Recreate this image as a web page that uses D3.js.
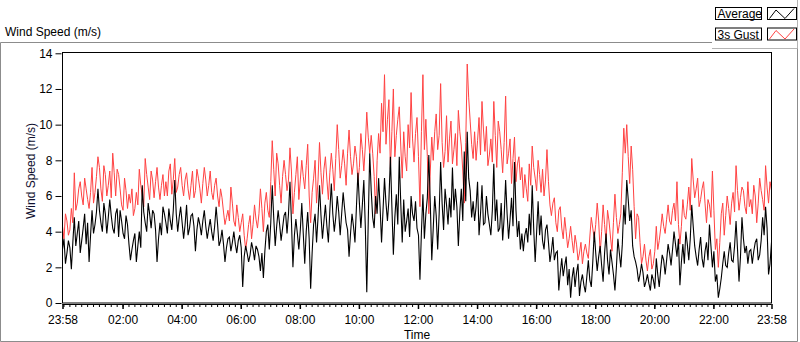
<!DOCTYPE html>
<html>
<head>
<meta charset="utf-8">
<script src="https://cdnjs.cloudflare.com/ajax/libs/d3/7.8.5/d3.min.js"></script>
<style>
  html, body { margin: 0; padding: 0; background: #fff; }
  svg { display: block; font-family: "Liberation Sans", Arial, sans-serif; }
</style>
</head>
<body>
<svg id="chart" width="800" height="342"></svg>
<script>
// readings every 3 minutes from 23:58; kept as the readings on the
// 6 minute marks and the ones half-way between them
var sampleMinutes = 3;

var gustMarks = [
  4.3,5.0,3.8,5.3,7.3,5.6,6.8,5.5,6.4,5.3,7.6,6.2,8.2,6.4,7.7,6.0,7.4,8.4,6.0,7.2,
  5.5,7.0,5.3,5.6,4.9,6.2,7.5,6.0,8.1,6.5,7.4,5.9,7.6,5.8,7.2,
  6.8,7.4,6.1,8.1,6.5,7.6,6.0,7.3,5.8,7.4,6.3,7.0,5.6,7.6,6.0,7.4,5.8,7.0,5.4,5.9,
  4.4,5.2,6.5,4.6,5.5,4.0,5.0,3.0,4.4,3.6,5.5,4.2,6.4,4.0,6.2,
  4.8,9.1,6.0,7.8,5.6,8.0,6.3,8.7,5.0,7.2,5.8,8.0,6.4,8.9,4.5,7.0,5.6,9.0,6.1,8.2,
  5.8,8.4,6.3,10.0,7.0,8.6,6.6,9.7,7.2,8.8,6.8,9.5,7.4,10.7,8.4,
  8.4,5.0,9.5,11.2,12.8,10.3,7.5,12.0,9.4,11.0,7.0,8.2,10.0,11.8,7.9,10.4,5.4,12.8,10.3,5.0,
  9.3,9.6,8.6,12.3,7.6,10.5,9.2,7.8,9.5,10.8,8.8,5.6,13.4,10.2,8.1,
  8.0,10.4,11.3,8.5,7.7,9.2,11.3,7.6,9.6,7.3,11.6,8.4,6.7,9.3,7.8,6.9,5.9,6.4,7.8,8.8,
  7.0,8.0,6.2,6.0,8.6,5.5,5.6,4.5,5.2,4.2,4.8,3.1,4.3,2.8,3.3,
  2.8,2.2,3.3,2.5,4.8,3.6,5.6,2.8,5.5,3.4,4.6,2.9,6.1,3.9,5.0,9.8,10.0,6.7,7.5,3.6,
  4.8,2.2,3.3,1.8,3.0,2.2,4.3,3.5,5.0,3.9,5.5,4.4,5.6,6.8,3.3,
  5.8,4.7,6.5,8.1,5.9,7.0,5.8,6.8,4.5,5.5,7.4,3.0,2.0,5.0,3.8,6.0,4.4,6.2,7.7,5.2,
  6.5,5.4,6.8,5.8,6.6,4.5,7.0,5.8,7.7,5.6,6.3
];
var gustBetween = [
  3.6,4.6,4.1,4.5,5.2,6.4,6.0,7.0,5.8,6.2,5.6,7.1,7.6,5.7,7.2,6.6,5.9,7.3,7.5,6.4,
  5.2,6.3,6.1,6.4,5.3,5.5,6.6,5.4,7.2,5.8,6.9,6.8,6.5,6.6,6.0,
  6.0,7.8,6.9,6.2,7.2,6.6,6.9,6.4,6.6,5.9,7.5,6.4,6.7,6.9,6.6,6.2,6.6,6.0,6.4,5.1,
  4.8,4.6,5.6,4.3,4.8,4.5,3.8,3.6,4.9,4.4,4.7,5.0,5.3,5.6,5.2,
  6.8,7.5,8.4,6.6,7.1,7.2,6.9,7.4,6.2,8.2,6.9,7.1,7.7,6.0,6.2,8.0,6.9,7.3,7.5,6.9,
  7.3,7.5,8.1,8.6,7.7,7.8,8.4,8.2,7.8,8.2,7.6,8.6,8.8,9.3,9.4,
  7.1,8.0,8.4,9.6,8.9,11.4,9.6,8.2,10.3,8.8,9.6,7.4,8.7,9.2,9.5,8.2,9.6,8.6,8.2,7.4,
  8.0,10.6,9.4,9.0,8.5,7.9,10.2,8.6,7.7,9.6,7.4,9.0,11.5,8.9,9.6,
  9.1,8.3,9.7,9.9,8.3,7.9,9.4,10.2,8.6,9.0,7.8,9.2,8.1,6.8,8.2,7.6,7.2,5.7,6.6,7.6,
  6.3,7.2,7.5,6.9,6.8,4.9,5.9,4.0,5.4,3.6,4.0,3.6,3.5,3.8,2.4,
  3.4,2.9,2.8,3.7,4.2,4.4,4.6,4.0,4.4,5.2,3.7,4.5,4.8,4.4,7.3,8.4,8.2,8.8,5.4,5.0,
  3.4,2.6,2.4,2.6,1.9,2.9,3.0,4.2,4.3,4.7,4.6,5.2,4.6,4.4,4.3,
  4.9,5.5,5.2,6.9,6.4,5.4,6.4,5.6,5.8,4.8,5.2,3.6,3.4,5.6,4.9,5.3,5.6,5.1,6.3,5.9,
  6.3,5.0,5.4,5.0,6.0,5.6,6.3,5.2,6.5,6.8
];

var avgMarks = [
  3.0,2.2,3.5,1.9,4.8,3.9,2.8,4.2,3.3,2.3,5.2,4.4,6.4,4.5,5.6,3.9,5.8,4.2,5.0,3.7,
  4.6,3.6,4.4,2.4,3.5,2.3,4.0,6.6,4.5,5.6,4.2,5.0,2.3,4.5,5.4,
  4.5,5.3,4.1,6.9,4.0,5.4,3.6,5.5,4.2,5.0,2.9,4.8,3.8,5.2,3.6,4.7,3.5,5.4,3.2,4.1,
  2.3,3.6,2.9,4.0,2.8,3.8,0.9,3.2,2.3,3.4,2.4,3.0,1.8,1.4,4.0,
  3.0,6.6,3.2,5.2,3.5,4.9,3.9,6.8,2.0,4.7,3.0,5.6,2.2,5.1,0.8,4.4,3.4,6.6,3.6,5.5,
  3.4,6.7,4.0,6.0,3.8,6.2,4.5,2.6,5.0,3.4,7.3,4.2,6.9,0.6,8.4,
  4.8,6.0,7.0,3.4,7.0,4.6,8.2,2.7,6.1,8.2,3.4,4.0,5.3,6.0,4.6,4.2,1.3,6.1,5.0,8.3,
  2.4,6.0,3.0,7.9,4.1,5.5,5.9,7.6,6.4,3.2,6.4,8.5,9.6,6.3,5.7,
  5.4,3.8,6.6,4.5,5.0,3.8,7.8,5.8,4.2,3.5,6.9,3.6,5.9,7.9,3.7,3.0,2.9,4.2,5.0,6.6,
  2.3,5.7,4.9,3.0,4.4,2.3,3.7,2.8,0.7,2.5,2.1,1.0,0.3,2.0,1.7,
  0.4,1.6,0.6,2.4,0.9,4.0,1.8,3.2,1.2,3.9,1.6,2.3,0.7,3.6,2.0,5.5,6.9,4.6,3.2,2.3,
  1.2,2.2,0.9,1.6,0.7,1.3,2.5,0.9,2.7,1.6,3.3,2.1,4.0,2.6,1.0,
  3.3,4.0,2.4,5.5,3.2,2.1,3.7,2.0,3.4,4.4,2.0,1.2,0.3,1.4,2.9,2.0,3.4,2.3,4.6,1.2,
  4.8,2.8,2.2,3.0,2.9,3.6,2.7,4.8,5.4,1.6,3.4
];
var avgBetween = [
  3.6,2.8,3.1,3.4,3.2,4.6,3.5,5.0,4.5,3.8,3.9,5.1,5.2,4.0,5.0,4.8,4.9,3.9,5.3,5.2,
  3.9,4.9,3.3,3.0,3.9,3.2,3.1,5.1,4.0,5.0,5.2,4.1,3.6,3.8,5.0,
  3.9,4.6,5.2,5.0,4.8,4.5,4.4,3.8,4.9,4.3,4.1,4.4,4.6,4.3,4.2,4.0,4.3,4.4,3.5,3.3,
  3.1,3.7,3.4,3.3,3.5,3.1,2.6,2.8,2.7,3.0,3.2,2.6,2.8,2.9,4.4,
  4.5,4.8,4.3,4.4,4.2,5.1,5.0,4.6,3.8,3.9,4.1,3.9,4.0,3.6,2.8,5.0,4.8,4.9,4.6,4.3,
  5.2,5.0,4.8,5.1,5.0,5.3,4.1,3.9,4.3,5.4,5.6,5.5,4.3,4.6,6.3,
  4.2,5.0,5.4,5.2,5.6,5.8,5.4,4.8,4.4,5.6,5.8,4.6,3.7,5.0,5.7,3.8,4.0,3.6,5.9,5.6,
  4.2,4.9,5.0,5.6,6.4,4.4,4.8,5.2,5.4,5.1,4.6,5.7,7.0,4.8,4.6,
  6.8,5.0,4.4,6.0,4.4,5.2,4.6,4.0,5.6,4.8,5.0,4.7,4.3,5.2,4.6,3.9,3.8,3.4,3.8,4.2,
  4.0,3.8,3.5,4.1,3.4,2.9,2.4,2.9,1.7,1.5,2.6,1.9,1.4,0.9,2.2,
  1.2,1.0,1.5,1.3,2.3,2.8,2.6,2.1,2.8,2.4,3.0,1.6,2.0,2.8,3.3,4.4,5.8,5.2,2.6,1.9,
  1.6,1.7,1.2,1.1,1.6,0.8,1.6,1.9,2.4,2.4,2.8,3.0,3.3,3.6,2.3,
  2.2,3.3,3.6,4.3,2.6,3.0,2.5,2.9,2.4,3.2,2.9,1.6,0.8,2.2,2.1,2.8,2.4,3.2,3.0,2.6,
  3.6,3.2,2.9,2.2,3.4,2.4,3.5,3.8,4.2,2.2
];

var yTicks = [0, 2, 4, 6, 8, 10, 12, 14];
// minutes after 23:58 and their clock labels
var xTickMinutes = [0, 122, 242, 362, 482, 602, 722, 842, 962, 1082, 1202, 1322, 1440];
var xTickLabels = ["23:58","02:00","04:00","06:00","08:00","10:00","12:00","14:00","16:00","18:00","20:00","22:00","23:58"];

var seriesNames = ["Average", "3s Gust"];
var seriesColors = ["#000000", "#ff4242"];

function zipReadings(marks, between){
  var out = [];
  marks.forEach(function(v, i){
    out.push(v);
    if(i < between.length) out.push(between[i]);
  });
  return out;
}

var gustSpeed = zipReadings(gustMarks, gustBetween);
var avgSpeed = zipReadings(avgMarks, avgBetween);

var svg = d3.select("#chart");

var plot = {left: 62.5, right: 771.5, top: 52.5, bottom: 303};

var x = d3.scaleLinear().domain([0, 1440]).range([plot.left, plot.right]);
var y = d3.scaleLinear().domain([0, 14]).range([plot.bottom, 53.3]);

// outer frame of the chart
svg.append("path")
  .attr("d", "M0.5,341.5 V42.5 H712")
  .attr("fill", "none").attr("stroke", "#8c8c8c");
svg.append("path")
  .attr("d", "M797.5,48 V341.5 H0.5")
  .attr("fill", "none").attr("stroke", "#8c8c8c");
// legend frame
svg.append("path")
  .attr("d", "M712,48.5 H797.5 V0")
  .attr("fill", "none").attr("stroke", "#b4b4b4");

svg.append("text")
  .attr("x", 5).attr("y", 36)
  .attr("font-size", 12).attr("fill", "#000")
  .text("Wind Speed (m/s)");

// legend
var legend = svg.append("g");
seriesNames.forEach(function(name, i){
  var top = 7.5 + i * 20.5;
  legend.append("rect")
    .attr("x", 715.5).attr("y", top).attr("width", 46).attr("height", 12)
    .attr("fill", "#fff").attr("stroke", "#000");
  legend.append("text")
    .attr("x", 717.5).attr("y", top + 10.5)
    .attr("font-size", 12).attr("fill", "#000")
    .text(name);
  legend.append("rect")
    .attr("x", 767.5).attr("y", top).attr("width", 29).attr("height", 12)
    .attr("fill", "#fff").attr("stroke", "#000");
  legend.append("path")
    .attr("d", "M769.5," + (top + 11) + " L776," + (top + 2.5) + " L785," + (top + 11) + " L794," + (top + 1))
    .attr("fill", "none").attr("stroke", seriesColors[i]).attr("stroke-width", 1);
});

// plot border
svg.append("rect")
  .attr("x", plot.left).attr("y", plot.top)
  .attr("width", plot.right - plot.left).attr("height", plot.bottom - plot.top)
  .attr("fill", "#fff").attr("stroke", "#000");

// lines
svg.append("clipPath").attr("id", "clip").append("rect")
  .attr("x", plot.left + 0.5).attr("y", plot.top + 0.5)
  .attr("width", plot.right - plot.left - 1).attr("height", plot.bottom - plot.top - 1);

var line = d3.line()
  .x(function(d, i){ return x(i * sampleMinutes); })
  .y(function(d){ return y(d); });

var lines = svg.append("g").attr("clip-path", "url(#clip)");
lines.append("path").datum(gustSpeed)
  .attr("d", line).attr("fill", "none")
  .attr("stroke", seriesColors[1]).attr("stroke-width", 1);
lines.append("path").datum(avgSpeed)
  .attr("d", line).attr("fill", "none")
  .attr("stroke", seriesColors[0]).attr("stroke-width", 1.1);

// y axis
var yAxis = d3.axisLeft(y).tickValues(yTicks).tickSize(6).tickPadding(3);
var gy = svg.append("g")
  .attr("transform", "translate(" + (plot.left - 1) + ",0)")
  .call(yAxis);
gy.select(".domain").remove();
gy.selectAll("text").attr("font-size", 12).attr("fill", "#000")
  .attr("font-family", "Liberation Sans, Arial, sans-serif");

svg.append("text")
  .attr("transform", "translate(35,171) rotate(-90)")
  .attr("text-anchor", "middle")
  .attr("font-size", 12).attr("fill", "#101030")
  .text("Wind Speed (m/s)");

// x axis: minor ticks every 12 minutes, major ticks with labels
var minorTicks = d3.range(2, 1440, 12);
var xMinor = d3.axisBottom(x).tickValues(minorTicks).tickSize(3).tickFormat("");
var gxm = svg.append("g")
  .attr("transform", "translate(0," + (plot.bottom + 1) + ")")
  .call(xMinor);
gxm.select(".domain").remove();

var xAxis = d3.axisBottom(x).tickValues(xTickMinutes).tickSize(5).tickPadding(6)
  .tickFormat(function(d, i){ return xTickLabels[i]; });
var gx = svg.append("g")
  .attr("transform", "translate(0," + (plot.bottom + 1) + ")")
  .call(xAxis);
gx.select(".domain").attr("stroke", "#000").attr("d", "M" + plot.left + ",0.5H" + plot.right);
gx.selectAll("text").attr("font-size", 12).attr("fill", "#000")
  .attr("font-family", "Liberation Sans, Arial, sans-serif");
gx.selectAll(".tick line").attr("stroke-width", 1.5);

svg.append("text")
  .attr("x", (plot.left + plot.right) / 2).attr("y", 339)
  .attr("text-anchor", "middle")
  .attr("font-size", 12).attr("fill", "#000")
  .text("Time");
</script>
</body>
</html>
